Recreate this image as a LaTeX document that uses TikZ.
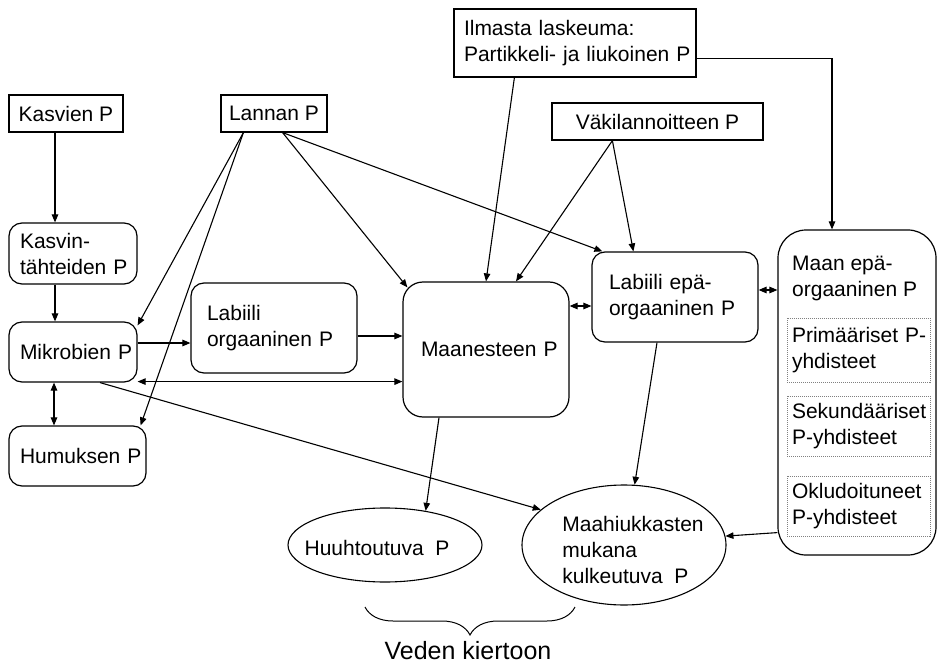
\documentclass[tikz,border=0pt]{standalone}
\usepackage{fontspec}
\setmainfont{Liberation Sans}
\usetikzlibrary{arrows.meta,decorations.pathreplacing,calc,shapes.geometric}
\begin{document}
\begin{tikzpicture}[x=1pt,y=-1pt,
  every node/.style={font=\fontsize{21}{26}\selectfont},
  sq/.style={draw, line width=1.2pt, inner sep=0pt, align=center},
  rbox/.style={draw, line width=1.2pt, rounded corners=13pt, inner ysep=0pt, align=left},
  dbox/.style={draw=gray, densely dotted, line width=1pt, inner ysep=0pt, inner xsep=5pt, align=left},
  oval/.style={draw, ellipse, line width=1.1pt, inner sep=0pt},
  arr/.style={line width=1.1pt, -{Triangle[length=8pt,width=6.5pt]}},
  darr/.style={line width=1.1pt, {Triangle[length=8pt,width=6.5pt]}-{Triangle[length=8pt,width=6.5pt]}},
  lbl/.style={inner sep=0pt, align=left}
]
\useasboundingbox (0,0) rectangle (938,666);

% top sources
\node[sq, minimum width=114pt, minimum height=37pt] (kasvien) at (66,113.5) {\mbox{Kasvien P}};
\node[sq, minimum width=106pt, minimum height=37pt] (lannan) at (274,113.5) {\mbox{Lannan P}};
\node[sq, minimum width=242pt, minimum height=68pt, text width=222pt, align=left, inner xsep=10pt] (ilmasta) at (575,43) {\mbox{Ilmasta laskeuma:}\\\mbox{Partikkeli- ja liukoinen P}};
\node[sq, minimum width=211pt, minimum height=37pt] (vaki) at (657.5,121.5) {\mbox{Väkilannoitteen P}};

% rounded boxes
\node[rbox, minimum height=61pt, text width=106pt, inner xsep=11pt] (kasvint) at (73,253.5) {\mbox{Kasvin-}\\\mbox{tähteiden P}};
\node[rbox, minimum height=60pt, text width=106pt, inner xsep=11pt] (mikrob) at (73,352) {\mbox{Mikrobien P}};
\node[rbox, minimum height=60pt, text width=115pt, inner xsep=11pt] (humus) at (77.5,456) {\mbox{Humuksen P}};
\node[rbox, minimum height=90pt, text width=134pt, inner xsep=16pt] (labo) at (274,328) {Labiili\\\mbox{orgaaninen P}};
\node[rbox, rounded corners=20pt, minimum height=135pt, text width=130pt, inner xsep=18pt] (maan) at (486,349.5) {\mbox{Maanesteen P}};
\node[rbox, minimum height=90pt, text width=132pt, inner xsep=17pt] (labe) at (675,297) {\mbox{Labiili epä-}\\\mbox{orgaaninen P}};
\node[rbox, rounded corners=28pt, minimum width=158pt, minimum height=325pt] (maanepa) at (857,392.5) {};
\node[lbl, anchor=west] (maanepatxt) at (792,278) {\mbox{Maan epä-}\\\mbox{orgaaninen P}};

% dotted boxes
\node[dbox, minimum height=64pt, text width=133pt] (prim) at (858.5,350) {\mbox{Primääriset P-}\\yhdisteet};
\node[dbox, minimum height=60pt, text width=133pt] (sek) at (858.5,426) {\mbox{Sekundääriset}\\\mbox{P-yhdisteet}};
\node[dbox, minimum height=60pt, text width=133pt] (oklu) at (858.5,506) {\mbox{Okludoituneet}\\\mbox{P-yhdisteet}};

% ellipses
\node[oval, minimum width=194pt, minimum height=74pt] (huuh) at (385,545) {};
\node[lbl] (huuhtxt) at (377,548) {\mbox{Huuhtoutuva~~P}};
\node[oval, minimum width=204pt, minimum height=120pt] (maah) at (624,545) {};
\node[lbl] (maahtxt) at (633,550) {Maahiukkasten\\mukana\\\mbox{kulkeutuva~~P}};

% brace
\coordinate (bl) at (365,607);
\coordinate (br) at (575,607);
\draw[line width=1pt, decorate, decoration={brace, mirror, amplitude=28pt}] (bl) -- (br);
\node[font=\fontsize{25}{29}\selectfont] (veden) at (468,651) {Veden kiertoon};

% connectors
\draw[arr] ([xshift=-11pt]kasvien.south) -- ([xshift=-11pt]kasvien.south |- kasvint.north);
\draw[arr] ([xshift=-18pt]kasvint.south) -- ([xshift=-18pt]kasvint.south |- mikrob.north);
\draw[darr] ([xshift=-19pt]mikrob.south) -- ([xshift=-19pt]mikrob.south |- humus.north);

\draw[arr] ([xshift=23pt]lannan.south west) -- ([yshift=-4pt]mikrob.north east);
\draw[arr] ([xshift=23pt]lannan.south west) -- ([xshift=-6pt]humus.north east);
\draw[arr] ([xshift=-45pt]lannan.south east) -- ([shift={(5pt,-6pt)}]maan.north west);
\draw[arr] ([xshift=-45pt]lannan.south east) -- ([xshift=11pt]labe.north west);

\draw[arr] ([xshift=61pt]ilmasta.south west) -- (maan.north);
\draw[arr] ([yshift=19pt]ilmasta.south east) -| ([xshift=-25pt]maanepa.north);

\draw[arr] ([xshift=61pt]vaki.south west) -- ([xshift=30pt]maan.north);
\draw[arr] ([xshift=61pt]vaki.south west) -- ([xshift=42pt]labe.north west);

\draw[arr] ([yshift=9pt]mikrob.east) -- ([yshift=9pt]mikrob.east -| labo.west);
\draw[arr] ([yshift=-8pt]labo.east) -- ([yshift=-8pt]labo.east -| maan.west);
\draw[darr] ([yshift=1pt]mikrob.south east) -- ([yshift=1pt]mikrob.south east -| maan.west);
\draw[darr] ([yshift=-9pt]labe.west) -- ([yshift=-9pt]labe.west -| maan.east);
\draw[darr] ([yshift=7pt]labe.east) -- ([yshift=7pt]labe.east -| maanepa.west);

\draw[arr] ([xshift=-47pt]maan.south) -- (huuh.40);
\draw[arr] ([xshift=27pt]mikrob.south) -- (maah.157);
\draw[arr] ([xshift=-18pt]labe.south) -- (maah.80);
\draw[arr] ([yshift=23pt]maanepa.south west) -- (maah.5);
\end{tikzpicture}
\end{document}
